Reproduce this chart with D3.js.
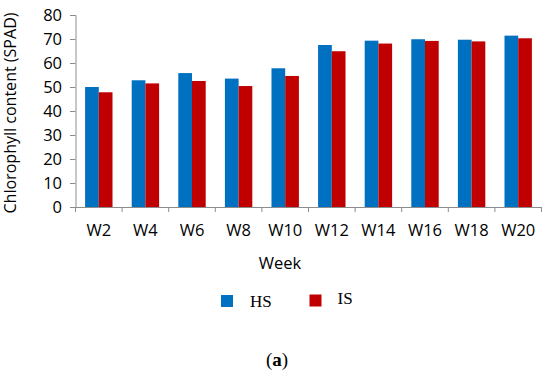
<!DOCTYPE html>
<html><head><meta charset="utf-8">
<script src="https://cdn.jsdelivr.net/npm/d3@7"></script>
<style>body{margin:0;background:#fff}svg{display:block}</style>
</head><body>
<script>
const categories = ["W2","W4","W6","W8","W10","W12","W14","W16","W18","W20"];
const seriesNames = ["HS","IS"];
const hsValues = [50.0, 52.8, 55.8, 53.5, 57.8, 67.5, 69.3, 69.9, 69.7, 71.4];
const isValues = [47.8, 51.5, 52.5, 50.4, 54.6, 64.9, 68.1, 69.2, 69.0, 70.3];
const yTicks = [0,10,20,30,40,50,60,70,80];
const colors = {HS:"#0070C0", IS:"#C00000"};

(function(){
const W = 550, H = 378;
const svg = d3.select("body").append("svg").attr("width", W).attr("height", H);
const mLeft = 75.5, mRight = 541.5, mTop = 15, mBottom = 207;
const x0 = d3.scaleBand().domain(categories).range([mLeft, mRight]).padding(0);
const x1 = d3.scaleBand().domain(seriesNames).range([0, x0.bandwidth()]).paddingInner(0).paddingOuter(0.7);
const y = d3.scaleLinear().domain([0, 80]).range([mBottom, mTop]);

const data = categories.map((c, i) => ({cat: c, HS: hsValues[i], IS: isValues[i]}));

const font = "'Open Sans', sans-serif";
const axisColor = "#8c8c8c";

// bars
const g = svg.append("g");
g.selectAll("g.cat").data(data).join("g")
  .attr("transform", d => `translate(${x0(d.cat)},0)`)
  .selectAll("rect").data(d => seriesNames.map(s => ({s, v: d[s]}))).join("rect")
  .attr("x", d => x1(d.s)).attr("width", x1.bandwidth())
  .attr("y", d => y(d.v)).attr("height", d => y(0) - y(d.v))
  .attr("fill", d => colors[d.s]);

// y axis
const yAxis = svg.append("g").attr("transform", `translate(${mLeft},0)`)
  .call(d3.axisLeft(y).tickValues(yTicks).tickSize(5.5).tickPadding(8));
yAxis.select(".domain").attr("stroke", axisColor);
yAxis.selectAll(".tick line").attr("stroke", axisColor);
yAxis.selectAll("text").attr("font-family", font).attr("font-size", 16.5).attr("fill", "#000");

// x axis
const xAxis = svg.append("g").attr("transform", `translate(0,${mBottom})`)
  .call(d3.axisBottom(x0).tickSize(0).tickPadding(17).tickSizeOuter(0));
xAxis.select(".domain").attr("stroke", axisColor);
xAxis.selectAll("text").attr("font-family", font).attr("font-size", 16.5).attr("fill", "#000");
const bounds = categories.map(c => x0(c)).concat([mRight]);
xAxis.selectAll("line.bnd").data(bounds).join("line").attr("class","bnd")
  .attr("x1", d => d).attr("x2", d => d).attr("y1", 0).attr("y2", 5)
  .attr("stroke", axisColor);

// axis titles
svg.append("text").attr("transform", "translate(15.5,113) rotate(-90)")
  .attr("text-anchor", "middle").attr("font-family", font).attr("font-size", 16)
  .attr("textLength", 201).attr("lengthAdjust", "spacingAndGlyphs")
  .text("Chlorophyll content (SPAD)");
svg.append("text").attr("x", 280).attr("y", 269).attr("text-anchor", "middle")
  .attr("font-family", font).attr("font-size", 16.5).text("Week");

// legend
const legend = [{s:"HS", x:221, tx:250, ty:306.5, ry:295}, {s:"IS", x:309.5, tx:337.5, ty:304, ry:294.5}];
const lg = svg.append("g").selectAll("g").data(legend).join("g");
lg.append("rect").attr("x", d => d.x).attr("y", d => d.ry).attr("width", 12).attr("height", 12)
  .attr("fill", d => colors[d.s]);
lg.append("text").attr("x", d => d.tx).attr("y", d => d.ty)
  .attr("font-family", "'Liberation Serif', serif").attr("font-size", 17).text(d => d.s);

// caption
const cap = svg.append("text").attr("x", 277).attr("y", 366).attr("text-anchor", "middle")
  .attr("font-family", "'Liberation Serif', serif").attr("font-size", 19);
cap.append("tspan").text("(");
cap.append("tspan").attr("font-weight", "bold").text("a");
cap.append("tspan").text(")");
})();
</script>
</body></html>
